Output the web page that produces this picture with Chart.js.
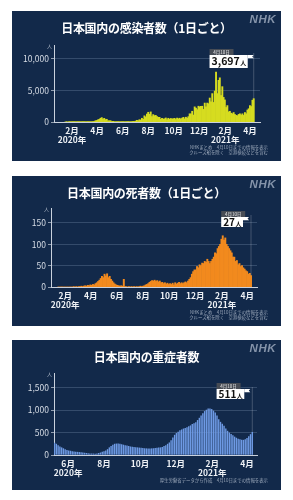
<!DOCTYPE html>
<html>
<head>
<meta charset="utf-8">
<script src="https://cdn.jsdelivr.net/npm/chart.js@4.4.1/dist/chart.umd.min.js"></script>
<style>
  body { margin: 0; width: 293px; height: 500px; background: #fff; position: relative; overflow: hidden;
         font-family: "Noto Sans CJK JP", "Noto Sans", sans-serif; }
  .panel { position: absolute; left: 12px; width: 269px; height: 150px; background: #12294a; }
  .panel canvas { position: absolute; left: 0; top: 0; }
  .title { position: absolute; left: 0; width: 100%; top: 9px; text-align: center; color: #fff;
           font-weight: 700; font-size: 12px; line-height: 16px; letter-spacing: -0.3px; }
  .nhk { position: absolute; right: 5px; top: 2px; color: #8594aa; font: italic 700 11.5px "Liberation Sans", sans-serif;
         letter-spacing: 0.5px; }
  .src { position: absolute; right: 13px; color: #9ba8ba; font-size: 4.4px; line-height: 4.6px; text-align: right;
         white-space: nowrap; }
</style>
</head>
<body>

<div class="panel" style="top:11px">
  <canvas id="casesChart" width="269" height="150"></canvas>
  <div class="title">日本国内の感染者数（1日ごと）</div>
  <div class="nhk">NHK</div>
  <div class="src" style="top:134px">NHKまとめ　4月10日までの情報を表示<br>クルーズ船を除く　空港検疫などを含む</div>
</div>

<div class="panel" style="top:176px">
  <canvas id="deathsChart" width="269" height="150"></canvas>
  <div class="title">日本国内の死者数（1日ごと）</div>
  <div class="nhk">NHK</div>
  <div class="src" style="top:134px">NHKまとめ　4月10日までの情報を表示<br>クルーズ船を除く　空港検疫などを含む</div>
</div>

<div class="panel" style="top:340px">
  <canvas id="severeChart" width="269" height="150"></canvas>
  <div class="title">日本国内の重症者数</div>
  <div class="nhk">NHK</div>
  <div class="src" style="top:138px">厚生労働省データから作成　4月10日までの情報を表示</div>
</div>

<script>
/* ============================================
   NHK style charts: daily cases / deaths / severe
   ============================================ */

// --- data (one value every 3 days, last one = 4月10日) ---
const lastDate = '2021-04-10';
const lastLabel = '4月10日';
const stepDays = 3;

const casesDaily = [
  0, 1, 0, 2, 1, 1,                                   // Jan 2020
  2, 1, 3, 2, 8, 6, 12, 15, 20,                       // Feb
  15, 30, 50, 45, 60, 35, 40, 40, 95, 200, 240,       // Mar
  350, 420, 580, 700, 460, 580, 380, 430, 180, 200,   // Apr
  210, 90, 110, 60, 50, 30, 30, 20, 25, 50,           // May
  50, 45, 30, 40, 70, 40, 50, 30, 100, 90,            // Jun
  150, 270, 210, 360, 310, 590, 420, 980, 800, 1260,  // Jul
  1540, 1230, 1600, 850, 1170, 1000, 1050, 870, 750, 740, 440, // Aug
  590, 460, 510, 640, 370, 590, 440, 560, 470, 530,   // Sep
  580, 400, 620, 500, 600, 470, 620, 740, 500, 760,   // Oct
  610, 850, 1300, 1280, 1700, 1100, 2400, 2200, 1950, 2500, // Nov
  2400, 2500, 2500, 2000, 3000, 2400, 3000, 2900, 3800, 3200, 4500, // Dec
  3100, 4900, 7900, 4500, 6600, 7000, 4200, 5600, 3900, 3500, // Jan 2021
  2300, 2600, 1600, 1700, 1400, 1300, 1500, 1200, 1050, // Feb
  1000, 1200, 1300, 1100, 1300, 1050, 1500, 1300, 1900, 2100, // Mar
  2600, 2450, 3450, 3697                              // Apr
];

const deathsDaily = [
  0, 0, 0, 0, 0, 0,
  0, 0, 0, 0, 0, 0, 1, 0, 1,
  0, 1, 1, 2, 1, 2, 3, 2, 4, 3, 5,
  4, 6, 5, 8, 10, 13, 16, 20, 25, 22,
  30, 26, 31, 22, 25, 18, 14, 10, 7, 5,
  4, 3, 2, 3, 2, 18, 1, 1, 0, 1,
  0, 1, 0, 1, 0, 1, 0, 1, 2, 1,
  2, 3, 5, 6, 8, 11, 13, 15, 14, 16, 13,
  15, 12, 14, 10, 11, 8, 10, 7, 9, 6,
  8, 6, 9, 5, 10, 7, 9, 11, 8, 10,
  8, 10, 12, 10, 14, 18, 22, 30, 36, 40,
  40, 48, 45, 52, 50, 56, 55, 60, 58, 65, 60,
  55, 60, 65, 70, 80, 78, 90, 95, 100, 112,
  120, 110, 115, 100, 95, 90, 85, 80, 70,
  70, 60, 62, 52, 55, 48, 50, 45, 42, 38,
  36, 30, 32, 27
];

const severeCount = [
  275, 250, 220, 190, 170, 150, 130, 110,             // May 2020
  100, 95, 85, 80, 72, 70, 65, 60, 55, 50,            // Jun
  45, 40, 35, 33, 32, 30, 35, 45, 55, 70,             // Jul
  85, 100, 130, 170, 200, 230, 250, 255, 258, 250, 240, // Aug
  230, 220, 210, 200, 190, 185, 180, 175, 170, 165,   // Sep
  160, 155, 150, 148, 145, 145, 148, 150, 155, 160,   // Oct
  165, 170, 180, 200, 220, 250, 280, 330, 390, 450,   // Nov
  490, 520, 550, 570, 590, 600, 620, 640, 660, 690, 710, // Dec
  730, 780, 830, 880, 930, 980, 1010, 1035, 1040, 1025, // Jan 2021
  990, 950, 880, 800, 740, 700, 650, 590, 540,        // Feb
  500, 470, 440, 410, 385, 365, 350, 340, 338, 350,   // Mar
  380, 420, 465, 511                                  // Apr
];

// --- axis labels ---
const monthTicksA = ['2020-02-01', '2020-04-01', '2020-06-01', '2020-08-01', '2020-10-01', '2020-12-01', '2021-02-01', '2021-04-01'];
const monthLabelsA = ['2月', '4月', '6月', '8月', '10月', '12月', '2月', '4月'];
const yearLabelsA = ['2020年', '', '', '', '', '', '2021年', ''];

const monthTicksC = ['2020-06-01', '2020-08-01', '2020-10-01', '2020-12-01', '2021-02-01', '2021-04-01'];
const monthLabelsC = ['6月', '8月', '10月', '12月', '2月', '4月'];
const yearLabelsC = ['2020年', '', '', '', '2021年', ''];

const yTicksCases = [0, 5000, 10000];
const yTicksDeaths = [0, 50, 100, 150];
const yTicksSevere = [0, 500, 1000, 1500];

// --- helpers ---
const FONT = "'Noto Sans CJK JP', 'Noto Sans', sans-serif";
Chart.defaults.font.family = FONT;

const DAY0 = Date.UTC(2020, 0, 1);
const dayOf = (s) => (Date.parse(s) - DAY0) / 86400000;

function toPoints(values) {
  const end = dayOf(lastDate);
  return values.map((v, i) => ({ x: end - (values.length - 1 - i) * stepDays, y: v }));
}

// callout box for the latest value + the small 人 unit at the top of the y axis
const calloutPlugin = {
  id: 'callout',
  afterDatasetsDraw(chart, args, opts) {
    const { ctx, chartArea } = chart;
    const meta = chart.getDatasetMeta(0);
    const bar = meta.data[meta.data.length - 1];

    ctx.save();
    // unit
    ctx.fillStyle = '#aab4c3';
    ctx.font = `5px ${FONT}`;
    ctx.textAlign = 'right';
    ctx.textBaseline = 'middle';
    ctx.fillText('人', chartArea.left - 2, chartArea.top + 1);

    // value box size
    ctx.font = `bold ${opts.size}px ${FONT}`;
    const numW = ctx.measureText(opts.text).width;
    ctx.font = `bold ${Math.round(opts.size * 0.6)}px ${FONT}`;
    const unitW = ctx.measureText('人').width;
    const boxW = numW + unitW + 4;
    const right = bar.x - opts.gap;
    const left = right - boxW;
    const top = chartArea.top + opts.top;

    // thin pole
    ctx.strokeStyle = 'rgba(255,255,255,0.35)';
    ctx.lineWidth = 0.6;
    ctx.beginPath();
    ctx.moveTo(bar.x, top - 2);
    ctx.lineTo(bar.x, bar.y);
    ctx.stroke();

    // date tag
    ctx.fillStyle = '#474c55';
    ctx.fillRect(left, top - 6, 24, 6);
    ctx.fillStyle = '#e8e8e8';
    ctx.font = `4.5px ${FONT}`;
    ctx.textAlign = 'center';
    ctx.fillText(lastLabel, left + 12, top - 3);

    // white box
    ctx.fillStyle = '#ffffff';
    ctx.fillRect(left, top, boxW, opts.h);
    // flag
    ctx.beginPath();
    ctx.moveTo(right, top);
    ctx.lineTo(right + 6, top);
    ctx.lineTo(right + 4.5, top + 1.6);
    ctx.lineTo(right + 6, top + 3.2);
    ctx.lineTo(right, top + 3.2);
    ctx.closePath();
    ctx.fill();

    ctx.fillStyle = '#111';
    ctx.textAlign = 'left';
    ctx.textBaseline = 'alphabetic';
    ctx.font = `bold ${opts.size}px ${FONT}`;
    const base = top + opts.h / 2 + opts.size * 0.36;
    ctx.fillText(opts.text, left + 2, base);
    ctx.font = `bold ${Math.round(opts.size * 0.6)}px ${FONT}`;
    ctx.fillText('人', left + 2 + numW + 0.5, base);
    ctx.restore();
  }
};

function makeChart(id, cfg) {
  const ctx = document.getElementById(id).getContext('2d');
  const area = cfg.area; // chart area inside the 269x150 panel
  return new Chart(ctx, {
    type: 'bar',
    data: {
      datasets: [{
        data: toPoints(cfg.values),
        backgroundColor: cfg.color,
        borderWidth: 0,
        barPercentage: 1,
        categoryPercentage: cfg.catPct,
      }],
    },
    plugins: [calloutPlugin],
    options: {
      responsive: false,
      animation: false,
      layout: { padding: { left: 0, top: area.top, right: 269 - area.right, bottom: 0 } },
      plugins: {
        legend: { display: false },
        tooltip: { enabled: false },
        callout: cfg.callout,
      },
      scales: {
        x: {
          type: 'linear',
          offset: false,
          min: dayOf(cfg.xMin),
          max: dayOf(cfg.xMax),
          afterBuildTicks: (s) => { s.ticks = cfg.ticks.map((t) => ({ value: dayOf(t) })); },
          afterFit: (s) => { s.height = 150 - area.bottom; },
          grid: { display: false, drawTicks: false },
          border: { display: true, color: '#c9d1dd', width: 1 },
          ticks: {
            padding: 4,
            autoSkip: false,
            maxRotation: 0,
            color: '#eef1f5',
            font: { size: 8.5, weight: '600', lineHeight: '9px' },
            callback: (v, i) => (cfg.years[i] ? [cfg.months[i], cfg.years[i]] : cfg.months[i]),
          },
        },
        y: {
          min: 0,
          max: cfg.yMax,
          afterBuildTicks: (s) => { s.ticks = cfg.yTicks.map((v) => ({ value: v })); },
          afterFit: (s) => { s.width = area.left; },
          grid: { color: 'rgba(160,180,210,0.35)', lineWidth: 0.7, drawTicks: true, tickLength: 3, tickColor: '#c9d1dd' },
          border: { display: true, color: '#c9d1dd', width: 1 },
          ticks: {
            padding: 2,
            color: '#d6dce5',
            font: { size: 8.5 },
            callback: (v) => v.toLocaleString('en-US'),
          },
        },
      },
    },
  });
}

makeChart('casesChart', {
  values: casesDaily,
  color: '#d6dc20',
  catPct: 1,
  area: { left: 42, right: 248, top: 34, bottom: 111 },
  xMin: '2019-12-20', xMax: '2021-04-25',
  ticks: monthTicksA, months: monthLabelsA, years: yearLabelsA,
  yMax: 12200, yTicks: yTicksCases,
  callout: { text: '3,697', size: 10.5, h: 13, top: 10, gap: 6 },
});

makeChart('deathsChart', {
  values: deathsDaily,
  color: '#f28a1e',
  catPct: 1,
  area: { left: 39, right: 245, top: 32, bottom: 111 },
  xMin: '2019-12-30', xMax: '2021-04-24',
  ticks: monthTicksA, months: monthLabelsA, years: yearLabelsA,
  yMax: 185, yTicks: yTicksDeaths,
  callout: { text: '27', size: 10, h: 10, top: 9, gap: 8 },
});

makeChart('severeChart', {
  values: severeCount,
  color: '#6e9ae4',
  catPct: 0.8,
  area: { left: 42, right: 245, top: 33, bottom: 115 },
  xMin: '2020-05-08', xMax: '2021-04-18',
  ticks: monthTicksC, months: monthLabelsC, years: yearLabelsC,
  yMax: 1830, yTicks: yTicksSevere,
  callout: { text: '511', size: 10, h: 10, top: 16, gap: 8 },
});
</script>
</body>
</html>
